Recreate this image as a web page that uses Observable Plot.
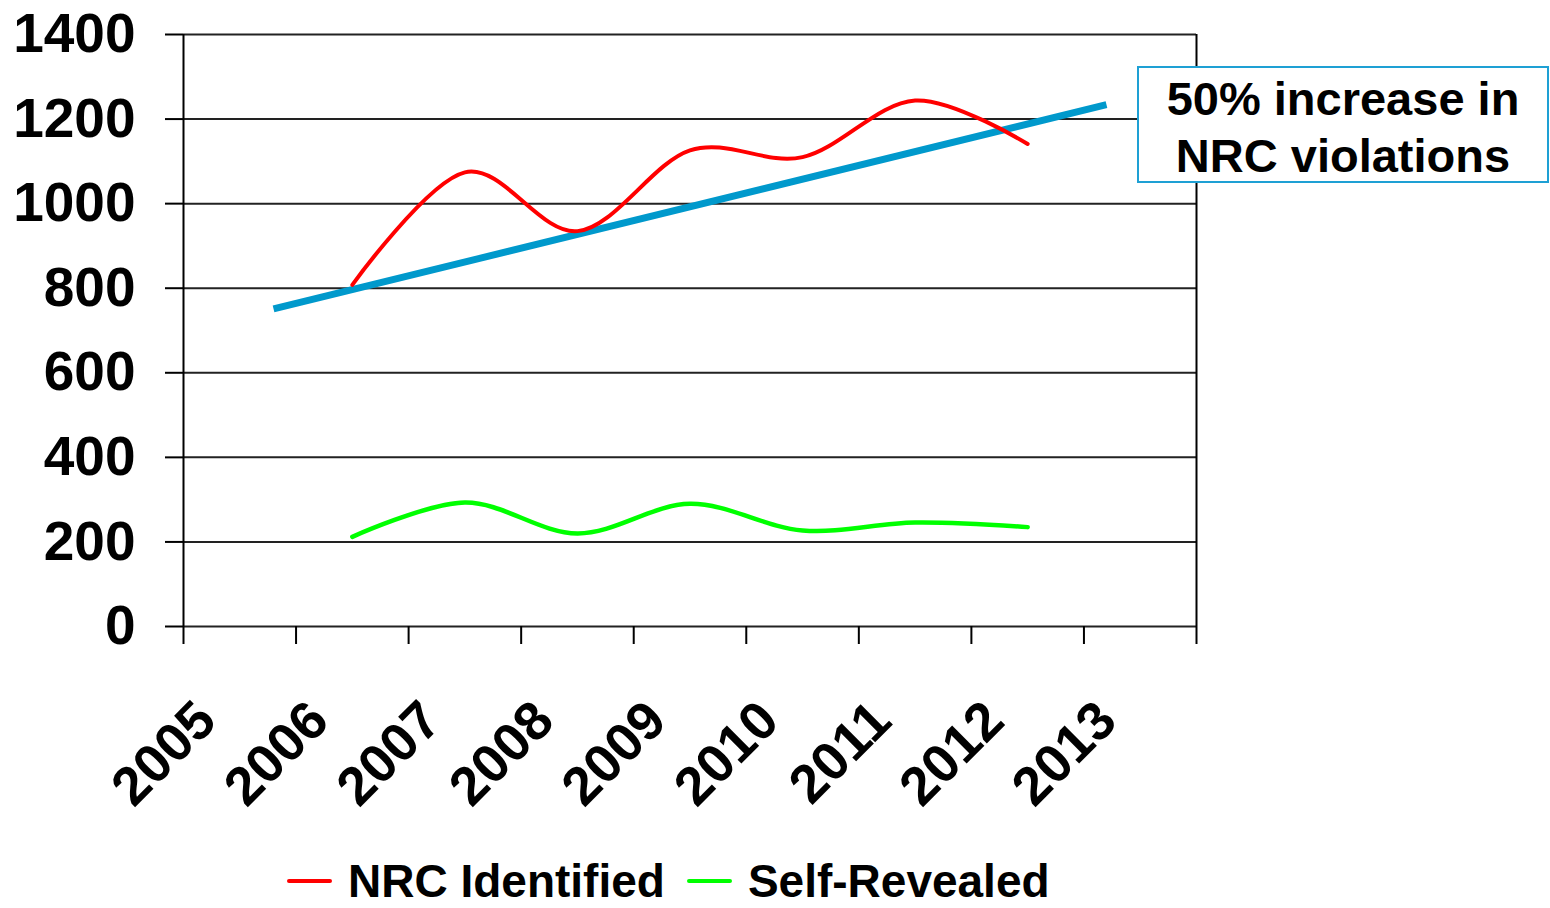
<!DOCTYPE html>
<html><head><meta charset="utf-8">
<script src="https://cdn.jsdelivr.net/npm/d3@7"></script>
<script src="https://cdn.jsdelivr.net/npm/@observablehq/plot@0.6"></script>
<style>
body{margin:0;background:#fff;font-family:'Liberation Sans',Arial,sans-serif;}
#wrap{position:relative;width:1550px;height:908px;overflow:hidden;}
#wrap svg{position:absolute;left:0;top:0;}
#note{position:absolute;left:1137px;top:66px;width:408px;height:111px;padding-top:2px;border:2px solid #1ea0d4;background:#fff;font-weight:bold;font-size:47px;line-height:57px;text-align:center;color:#000;}
#legend{position:absolute;left:287px;top:862px;display:flex;align-items:center;font-weight:bold;font-size:46px;line-height:38px;color:#000;white-space:nowrap;}
.sw{width:45px;height:4px;border-radius:2px;margin-right:16px;}
</style></head>
<body><div id="wrap"></div>
<script>
const years = [2005, 2006, 2007, 2008, 2009, 2010, 2011, 2012, 2013];
const yTicks = [0, 200, 400, 600, 800, 1000, 1200, 1400];
const seriesYears = [2006, 2007, 2008, 2009, 2010, 2011, 2012];
const nrcIdentified = [808, 1074, 935, 1126, 1110, 1244, 1141];
const selfRevealed = [212, 293, 220, 290, 227, 246, 235];
const trendYears = [2005.3, 2012.7];
const trendValues = [751, 1234];
const seriesNames = ["NRC Identified", "Self-Revealed"];
const seriesColors = ["#ff0000", "#00ff00"];
const noteLines = ["50% increase in", "NRC violations"];

const boundaries = years.map(y => y - 0.5).concat([years[years.length - 1] + 0.5]);
const redData = seriesYears.map((x, i) => ({x, y: nrcIdentified[i]}));
const greenData = seriesYears.map((x, i) => ({x, y: selfRevealed[i]}));
const trendData = trendYears.map((x, i) => ({x, y: trendValues[i]}));

const chart = Plot.plot({
  width: 1550, height: 840,
  marginLeft: 183, marginRight: 354, marginTop: 34, marginBottom: 214,
  x: {domain: [boundaries[0], boundaries[boundaries.length - 1]], label: null},
  y: {domain: [0, 1400], label: null},
  style: {fontFamily: "'Liberation Sans', Arial, sans-serif", fontWeight: "bold", background: "transparent", overflow: "visible", color: "#000"},
  marks: [
    Plot.ruleY(yTicks, {stroke: "#222", strokeWidth: 2}),
    Plot.ruleX([boundaries[0], boundaries[boundaries.length - 1]], {stroke: "#000", strokeWidth: 2}),
    Plot.axisY({ticks: yTicks, tickSize: 18, tickPadding: 30, tickFormat: "d", fontSize: 55, fontWeight: "bold", strokeWidth: 2}),
    Plot.axisX({ticks: boundaries, tickSize: 18, tickFormat: () => "", strokeWidth: 2}),
    Plot.text(years, {x: d => d, frameAnchor: "bottom", text: d => String(d), dx: -21, dy: 97, rotate: -45, textAnchor: "end", lineAnchor: "bottom", fontSize: 54, fontWeight: "bold", fill: "#000"}),
    Plot.line(trendData, {x: "x", y: "y", stroke: "#0099cc", strokeWidth: 7, strokeLinecap: "butt"}),
    Plot.line(greenData, {x: "x", y: "y", curve: "cardinal", stroke: seriesColors[1], strokeWidth: 4.5}),
    Plot.line(redData, {x: "x", y: "y", curve: "cardinal", stroke: seriesColors[0], strokeWidth: 4})
  ]
});
const wrap = document.getElementById("wrap");
wrap.appendChild(chart);

const note = document.createElement("div");
note.id = "note";
note.innerHTML = noteLines.join("<br>");
wrap.appendChild(note);

const legend = document.createElement("div");
legend.id = "legend";
seriesNames.forEach((name, i) => {
  const item = document.createElement("div");
  item.style.display = "flex";
  item.style.alignItems = "center";
  item.style.marginRight = i === 0 ? "22px" : "0";
  const sw = document.createElement("div");
  sw.className = "sw";
  sw.style.background = seriesColors[i];
  const t = document.createElement("span");
  t.textContent = name;
  item.appendChild(sw); item.appendChild(t);
  legend.appendChild(item);
});
wrap.appendChild(legend);
</script>
</body></html>
